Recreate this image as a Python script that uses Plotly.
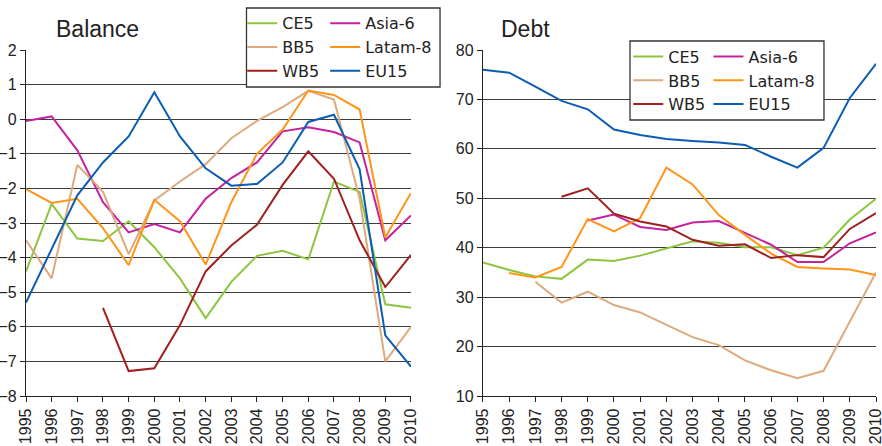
import plotly.graph_objects as go

years = list(range(1995, 2011))
year_labels = [str(y) for y in years]

series_names = ["CE5", "Asia-6", "BB5", "Latam-8", "WB5", "EU15"]
colors = {"CE5": "#8cc63e", "Asia-6": "#c4229e", "BB5": "#dcaa7c",
          "Latam-8": "#ff9419", "WB5": "#a01f1f", "EU15": "#0b5cb5"}

# Balance (left panel)
bal_ce5 = [-4.4, -2.45, -3.45, -3.52, -2.95, -3.7, -4.6, -5.75, -4.7, -3.95, -3.8, -4.05, -1.8, -2.1, -5.35, -5.45]
bal_asia6 = [-0.05, 0.08, -0.9, -2.4, -3.27, -3.03, -3.27, -2.3, -1.7, -1.25, -0.35, -0.23, -0.37, -0.67, -3.5, -2.78]
bal_bb5 = [-3.5, -4.6, -1.32, -2.1, -3.9, -2.35, -1.8, -1.3, -0.55, -0.05, 0.35, 0.82, 0.57, -2.3, -7.0, -6.0]
bal_latam8 = [-2.02, -2.42, -2.3, -3.15, -4.22, -2.33, -2.95, -4.2, -2.4, -1.0, -0.3, 0.83, 0.7, 0.28, -3.42, -2.13]
bal_wb5 = [None, None, None, -5.45, -7.28, -7.2, -5.95, -4.4, -3.65, -3.05, -1.9, -0.93, -1.72, -3.5, -4.85, -3.92]
bal_eu15 = [-5.3, -3.75, -2.2, -1.25, -0.5, 0.78, -0.5, -1.42, -1.92, -1.87, -1.25, -0.08, 0.13, -1.45, -6.25, -7.15]

# Debt (right panel)
debt_ce5 = [37.0, 35.5, 34.2, 33.7, 37.6, 37.3, 38.4, 39.9, 41.3, 41.0, 40.1, 40.1, 38.5, 40.0, 45.7, 49.9]
debt_asia6 = [None, None, None, None, 45.5, 46.7, 44.2, 43.6, 45.1, 45.4, 43.0, 40.6, 37.1, 37.1, 40.9, 43.1]
debt_bb5 = [None, None, 33.1, 28.9, 31.1, 28.4, 26.9, 24.4, 21.9, 20.3, 17.2, 15.2, 13.6, 15.1, 24.9, 35.0]
debt_latam8 = [None, 34.9, 34.0, 36.1, 45.8, 43.3, 46.0, 56.2, 52.8, 46.6, 42.6, 38.8, 36.1, 35.8, 35.6, 34.5]
debt_wb5 = [None, None, None, 50.3, 52.0, 46.9, 45.3, 44.3, 41.6, 40.4, 40.7, 37.9, 38.5, 38.1, 43.8, 47.0]
debt_eu15 = [76.0, 75.4, 72.6, 69.7, 68.0, 63.9, 62.8, 62.0, 61.6, 61.3, 60.8, 58.4, 56.2, 60.2, 70.3, 77.2]

balance = {"CE5": bal_ce5, "Asia-6": bal_asia6, "BB5": bal_bb5,
           "Latam-8": bal_latam8, "WB5": bal_wb5, "EU15": bal_eu15}
debt = {"CE5": debt_ce5, "Asia-6": debt_asia6, "BB5": debt_bb5,
        "Latam-8": debt_latam8, "WB5": debt_wb5, "EU15": debt_eu15}

FONT = "Liberation Sans"
LFONT = "DejaVu Sans"
TXT = "#222222"

fig = go.Figure()

col1 = ["CE5", "BB5", "WB5"]
for name in series_names:
    leg = "legend" if name in col1 else "legend2"
    fig.add_trace(go.Scatter(x=years, y=balance[name], name=name, mode="lines",
                             line=dict(color=colors[name], width=2),
                             xaxis="x", yaxis="y", legend=leg))
for name in series_names:
    leg = "legend3" if name in col1 else "legend4"
    fig.add_trace(go.Scatter(x=years, y=debt[name], name=name, mode="lines",
                             line=dict(color=colors[name], width=2),
                             xaxis="x2", yaxis="y2", legend=leg))

axis_common = dict(showline=True, linecolor="#222222", linewidth=1.3,
                   ticks="outside", ticklen=5, tickcolor="#222222", tickwidth=1.3,
                   tickfont=dict(family=FONT, size=16, color=TXT),
                   ticklabeloverflow="allow", zeroline=False)

legend_common = dict(bgcolor="rgba(0,0,0,0)", borderwidth=0,
                     font=dict(family=LFONT, size=16, color=TXT),
                     orientation="v", xanchor="left", yanchor="top",
                     tracegroupgap=0, itemclick=False)

fig.update_layout(
    width=882, height=446,
    margin=dict(l=26, r=6, t=50, b=50, autoexpand=False),
    plot_bgcolor="white", paper_bgcolor="white",
    showlegend=True,
    xaxis=dict(domain=[0, 0.4529], range=[1995, 2010], tickmode="array",
               tickvals=years, ticktext=year_labels, tickangle=-90,
               showgrid=False, **axis_common),
    yaxis=dict(domain=[0, 1], range=[-8, 2], dtick=1, showgrid=True,
               gridcolor="#3c3c3c", gridwidth=1, **axis_common),
    xaxis2=dict(domain=[0.5376, 1.0], range=[1995, 2010], tickmode="array",
                tickvals=years, ticktext=year_labels, tickangle=-90,
                showgrid=False, anchor="y2", **axis_common),
    yaxis2=dict(domain=[0, 1], range=[10, 80], dtick=10, showgrid=True,
                gridcolor="#3c3c3c", gridwidth=1, anchor="x2", **axis_common),
    legend=dict(x=0.2544, y=1.1263, **legend_common),
    legend2=dict(x=0.352, y=1.1263, **legend_common),
    legend3=dict(x=0.7085, y=1.030, **legend_common),
    legend4=dict(x=0.8029, y=1.030, **legend_common),
    shapes=[
        dict(type="rect", xref="paper", yref="paper", x0=0.2594, x1=0.4871,
             y0=0.8931, y1=1.1214, fillcolor="white",
             line=dict(color="#333333", width=1.3), layer="above"),
        dict(type="rect", xref="paper", yref="paper", x0=0.7106, x1=0.9388,
             y0=0.7977, y1=1.026, fillcolor="white",
             line=dict(color="#333333", width=1.3), layer="above"),
    ],
    annotations=[
        dict(text="Balance", xref="paper", yref="paper", x=0.033, y=1.06,
             xanchor="left", yanchor="middle", showarrow=False,
             font=dict(family=FONT, size=23, color=TXT)),
        dict(text="Debt", xref="paper", yref="paper", x=0.556, y=1.06,
             xanchor="left", yanchor="middle", showarrow=False,
             font=dict(family=FONT, size=23, color=TXT)),
    ],
)

fig.write_html("out.html", config={"displayModeBar": False},
               post_script="document.body.style.margin='0';document.body.style.padding='0';")
